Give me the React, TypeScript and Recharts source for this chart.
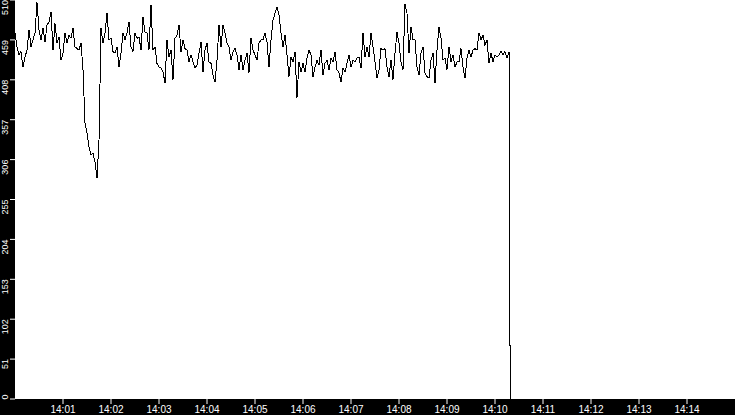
import React from 'react';
import { LineChart, Line, XAxis, YAxis, CartesianGrid } from 'recharts';

// seconds after 14:00:00, one sample every 2.5 s
const sampleStep = 2.5;
const values: number[] = [
  468, 450, 440, 444, 424, 437, 446, 472, 450, 459,
  468, 507, 472, 459, 474, 456, 478, 482, 495, 446,
  480, 455, 463, 433, 442, 468, 455, 465, 461, 474,
  450, 448, 446, 455, 421, 353, 340, 322, 312, 314,
  303, 282, 330, 474, 455, 468, 493, 459, 461, 444,
  442, 450, 424, 442, 468, 459, 468, 482, 450, 444,
  468, 461, 463, 446, 488, 469, 468, 446, 504, 446,
  450, 429, 424, 423, 418, 404, 459, 437, 446, 408,
  461, 465, 478, 444, 459, 448, 446, 431, 440, 431,
  423, 427, 442, 456, 418, 446, 455, 431,
  429, 414, 405, 433, 478, 450, 478, 468, 455, 450,
  433, 444, 448, 440, 421, 440, 421, 433, 442, 417,
  461, 446, 440, 433, 455, 459, 459, 468, 456, 424,
  459, 484, 493, 501, 491, 468, 450, 465, 440, 412,
  437, 431, 444, 385, 431, 418, 429, 418,
  436, 446, 440, 412, 424, 433, 427, 446, 414, 429,
  433, 421, 436, 431, 444, 421, 417, 405, 423, 418,
  429, 440, 424, 433, 431, 436, 437, 423, 468, 437,
  450, 437, 468, 450, 431, 410, 421, 448, 446, 448,
  424, 412, 433, 408, 442, 469, 455, 431,
  421, 505, 493, 442, 476, 459, 459, 424, 414, 442,
  450, 417, 412, 410, 433, 442, 404, 446, 476, 461,
  433, 436, 421, 450, 431, 440, 424, 431, 431, 448,
  424, 410, 436, 446, 437, 446, 448, 446, 468, 459,
  465, 452, 459, 429, 442, 431, 440, 437, 440, 444,
  440, 444, 436, 444,
];
const dropTime = 619;
const dropValue = 0;

const xTicks = [60, 120, 180, 240, 300, 360, 420, 480, 540, 600, 660, 720, 780, 840];
const xTickLabels = ['14:01', '14:02', '14:03', '14:04', '14:05', '14:06', '14:07', '14:08', '14:09', '14:10', '14:11', '14:12', '14:13', '14:14'];
const yTicks = [0, 51, 102, 153, 204, 255, 306, 357, 408, 459, 510];

const data = [
  ...values.map((v, i) => ({ t: i * sampleStep, v })),
  { t: dropTime, v: dropValue },
];

const YTick = (props: any) => {
  const { y, payload } = props;
  const isZero = payload.value === 0;
  const ty = isZero ? 399.5 : y;
  return (
    <text
      x={0}
      y={0}
      transform={`translate(7.5,${ty}) rotate(-90)`}
      textAnchor={isZero ? 'start' : 'end'}
      fill="#ffffff"
      fontSize={9}
      fontFamily="Liberation Sans, Arial, sans-serif"
    >
      {payload.value}
    </text>
  );
};

export default function App() {
  return (
    <div style={{ position: 'absolute', left: 0, top: 0, width: 735, height: 415, background: '#000' }}>
      <style>{`.recharts-line-curve { shape-rendering: crispEdges; }`}</style>
      <LineChart width={735} height={415} data={data} margin={{ top: 0, right: 0, bottom: 0, left: 0 }}>
        <CartesianGrid horizontal={false} vertical={false} fill="#ffffff" stroke="none" />
        <XAxis
          dataKey="t"
          type="number"
          domain={[0, 900]}
          ticks={xTicks}
          tickFormatter={(v: number) => xTickLabels[xTicks.indexOf(v)]}
          height={16}
          tickSize={5}
          axisLine={false}
          tickLine={{ stroke: '#ffffff' }}
          tick={{ fill: '#ffffff', fontSize: 10, fontFamily: 'Liberation Sans, Arial, sans-serif' }}
          interval={0}
        />
        <YAxis
          type="number"
          domain={[0, 510]}
          ticks={yTicks}
          width={15}
          tickSize={5}
          axisLine={false}
          tickLine={{ stroke: '#ffffff' }}
          tick={<YTick />}
          interval={0}
        />
        <Line
          type="linear"
          dataKey="v"
          stroke="#000000"
          strokeWidth={1}
          dot={false}
          activeDot={false}
          isAnimationActive={false}
        />
      </LineChart>
    </div>
  );
}
